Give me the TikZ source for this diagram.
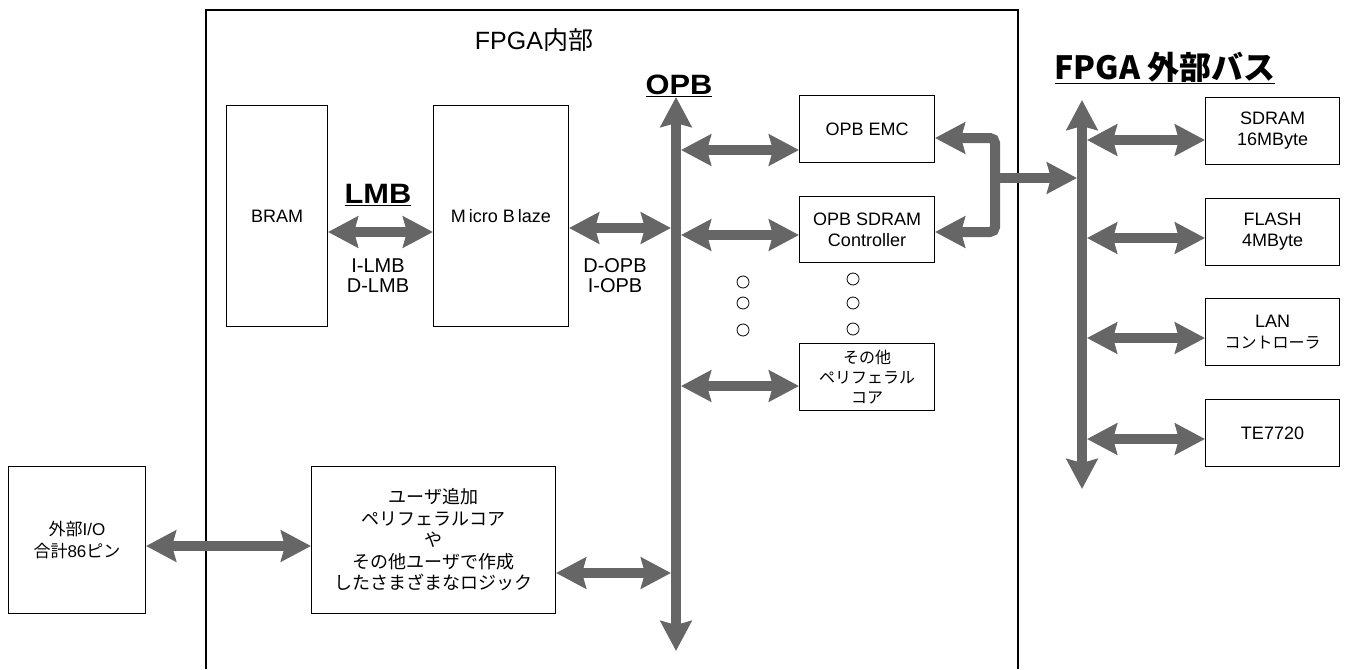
\documentclass[tikz,border=0pt]{standalone}
\usepackage{fontspec}
\setmainfont{Liberation Sans}
\newfontfamily\jp{Noto Sans CJK JP}
\newfontfamily\widesans[FakeStretch=1.1]{Liberation Sans}
\usetikzlibrary{arrows.meta,calc}
\definecolor{busgray}{HTML}{666666}
\tikzset{
  box/.style={draw=black, line width=1pt, fill=white, inner sep=0pt, align=center, anchor=north west,
    font=\fontsize{18}{21}\selectfont},
  bus/.style={draw=busgray, line width=10pt,
    arrows={Stealth[length=30pt,width=31pt,inset=4pt]-Stealth[length=30pt,width=31pt,inset=4pt]}},
  onebus/.style={draw=busgray, line width=10pt, -{Stealth[length=30pt,width=31pt,inset=4pt]}},
  lbl/.style={inner sep=0pt, align=center, font=\fontsize{20}{20}\selectfont},
  biglbl/.style={inner sep=0pt, align=center, font=\widesans\fontsize{28}{30}\selectfont\bfseries},
  dot/.style={draw=black, line width=0.8pt, circle, minimum size=12pt, inner sep=0pt}
}
\begin{document}
\begin{tikzpicture}[x=1pt,y=-1pt]
\useasboundingbox (0,0) rectangle (1348,669);
% FPGA frame
\draw[line width=2pt] (206,669) -- (206,10) -- (1018,10) -- (1018,669);
\node[inner sep=0pt, font=\fontsize{25}{27}\selectfont] (fpgain) at (534,40) {FPGA{\jp 内部}};

% boxes
\node[box, minimum width=101pt, minimum height=221pt] (bram) at (226,105) {BRAM};
\node[box, minimum width=135pt, minimum height=221pt] (mb) at (433,105) {M\hspace{3pt}icro B\hspace{3pt}laze};
\node[box, minimum width=135pt, minimum height=67pt] (emc) at (799,95) {OPB EMC};
\node[box, minimum width=135pt, minimum height=66pt] (sdc) at (799,196) {OPB SDRAM\\Controller};
\node[box, minimum width=135pt, minimum height=67pt, font=\jp\fontsize{16}{20}\selectfont] (oth) at (799,343) {その他\\ペリフェラル\\コア};
\node[box, minimum width=134pt, minimum height=67pt] (sdram) at (1205,97) {SDRAM\\16MByte};
\node[box, minimum width=134pt, minimum height=67pt] (flash) at (1205,198) {FLASH\\4MByte};
\node[box, minimum width=134pt, minimum height=67pt] (lan) at (1205,298) {LAN\\{\jp\fontsize{16}{21}\selectfont コントローラ}};
\node[box, minimum width=134pt, minimum height=67pt] (te) at (1205,399) {TE7720};
\node[box, minimum width=137pt, minimum height=147pt, font=\fontsize{17}{22}\selectfont] (extio) at (8,466) {{\jp 外部}I/O\\{\jp 合計}86{\jp ピン}};
\node[box, minimum width=244pt, minimum height=147pt, font=\jp\fontsize{18}{21.5}\selectfont] (user) at (311,466)
  {ユーザ追加\\ペリフェラルコア\\や\\その他ユーザで作成\\したさまざまなロジック};

% labels
\node[biglbl] (lmb) at (378,195) {\underline{LMB}};
\node[lbl] (lmbs) at (378,276) {I-LMB\\D-LMB};
\node[lbl] (opbs) at (615,276) {D-OPB\\I-OPB};
\node[biglbl] (opb) at (679,86) {\underline{OPB}};
\node[inner sep=0pt, font=\jp\fontsize{32}{34}\selectfont\bfseries] (extbus) at (1165,68) {\underline{FPGA 外部バス}};

% bus coordinates
\coordinate (opbT) at (676,97);
\coordinate (opbB) at (676,651);
\coordinate (extT) at (1082,100);
\coordinate (extB) at (1082,489);
\coordinate (opbL) at (671,0);
\coordinate (opbR) at (681,0);
\coordinate (extL) at (1077,0);
\coordinate (extR) at (1087,0);
\coordinate (jx) at (995,0);

% buses
\draw[bus] (opbB) -- (opbT);
\draw[bus] (extB) -- (extT);

% connectors
\draw[bus] (bram.east |- 0,232) -- (mb.west |- 0,232);
\draw[bus] (mb.east |- 0,228) -- (opbL |- 0,228);
\draw[bus] (opbR |- 0,150) -- (emc.west |- 0,150);
\draw[bus] (opbR |- 0,235) -- (sdc.west |- 0,235);
\draw[bus] (opbR |- 0,386) -- (oth.west |- 0,386);
\draw[bus] (user.east |- 0,573) -- (opbL |- 0,573);
\draw[bus] (extio.east |- 0,546) -- (user.west |- 0,546);
\draw[bus] (extR |- 0,140) -- (sdram.west |- 0,140);
\draw[bus] (extR |- 0,238) -- (flash.west |- 0,238);
\draw[bus] (extR |- 0,338) -- (lan.west |- 0,338);
\draw[bus] (extR |- 0,439) -- (te.west |- 0,439);
\draw[bus, rounded corners=5pt] (emc.east |- 0,138) -- (jx |- 0,138) -- (jx |- 0,232) -- (sdc.east |- 0,232);
\draw[onebus] (jx |- 0,178) -- (extL |- 0,178);

% dots
\foreach \yy in {282,303,330} \node[dot] at (743,\yy) {};
\foreach \yy in {279,303,329} \node[dot] at (853,\yy) {};
\end{tikzpicture}
\end{document}
